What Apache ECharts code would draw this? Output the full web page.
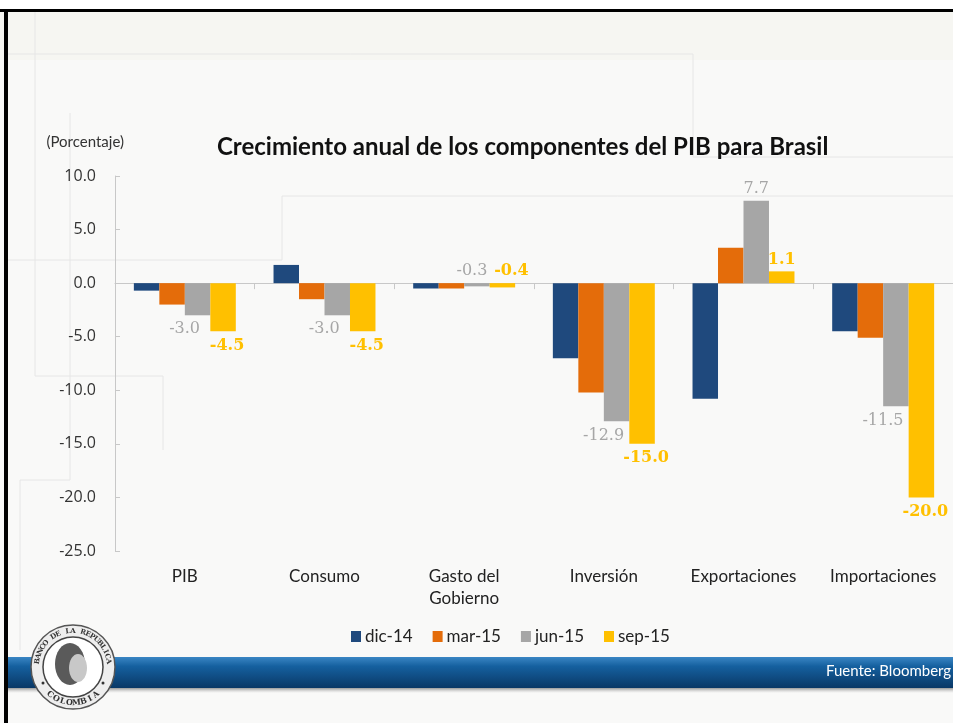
<!DOCTYPE html>
<html>
<head>
<meta charset="utf-8">
<script src="https://cdn.jsdelivr.net/npm/echarts@6/dist/echarts.min.js"></script>
<style>
  html, body { margin: 0; padding: 0; background: #f9f9f8; }
  #main { width: 953px; height: 723px; }
</style>
</head>
<body>
<div id="main"></div>
<script>
// datos del grafico
var categorias = ['PIB', 'Consumo', 'Gasto del\nGobierno', 'Inversión', 'Exportaciones', 'Importaciones'];
var dic14 = [-0.7, 1.7, -0.5, -7.0, -10.8, -4.5];
var mar15 = [-2.0, -1.5, -0.5, -10.2, 3.3, -5.1];
var jun15 = [-3.0, -3.0, -0.3, -12.9, 7.7, -11.5];
var sep15 = [-4.5, -4.5, -0.4, -15.0, 1.1, -20.0];
var series = ['dic-14', 'mar-15', 'jun-15', 'sep-15'];
var colores = ['#1f497d', '#e46c0a', '#a6a6a6', '#ffc000'];

// posicion de etiquetas (solo jun y sep llevan etiqueta)
var posJun = ['bottom', 'bottom', 'top', 'bottom', 'top', 'bottom'];
var posSep = ['bottom', 'bottom', 'top', 'bottom', 'top', 'bottom'];

function conEtiqueta(vals, pos, color, bold, dx, dxTop) {
    return vals.map(function (v, i) {
        var arriba = pos[i] == 'top';
        return {
            value: v,
            label: {
                show: true,
                position: pos[i],
                distance: arriba ? 4 : 6,
                offset: arriba ? [v < 0 ? dxTop : 0, 0] : [dx, 0],
                color: color,
                fontFamily: 'DejaVu Serif',
                fontSize: 16,
                fontWeight: bold ? 'bold' : 'normal',
                formatter: function (p) { return p.value.toFixed(1); }
            }
        };
    });
}

var lineaFondo = '#e6e6e6';
function linea(x1, y1, x2, y2) {
    return { type: 'line', silent: true, z: -10,
        shape: { x1: x1, y1: y1, x2: x2, y2: y2 },
        style: { stroke: lineaFondo, lineWidth: 1 } };
}

// letras del sello
var sello = [];
var txtArriba = 'BANCO DE LA REPUBLICA';
for (var k = 0; k < txtArriba.length; k++) {
    var ang = Math.PI * (1.05 + 0.9 * k / (txtArriba.length - 1));
    sello.push({ type: 'text', z: 12, x: 73 + 36 * Math.cos(ang), y: 667 + 36 * Math.sin(ang),
        rotation: -(ang + Math.PI / 2),
        style: { text: txtArriba[k], fill: '#333', font: 'bold 7px "DejaVu Serif"', align: 'center', verticalAlign: 'middle' } });
}
var txtAbajo = 'COLOMBIA';
for (var k = 0; k < txtAbajo.length; k++) {
    var ang2 = Math.PI * (0.72 - 0.44 * k / (txtAbajo.length - 1));
    sello.push({ type: 'text', z: 12, x: 73 + 36 * Math.cos(ang2), y: 667 + 36 * Math.sin(ang2),
        rotation: -(ang2 - Math.PI / 2),
        style: { text: txtAbajo[k], fill: '#333', font: 'bold 8px "DejaVu Serif"', align: 'center', verticalAlign: 'middle' } });
}

var myChart = echarts.init(document.getElementById('main'));

var option = {
    backgroundColor: '#f9f9f8',
    animation: false,
    textStyle: { fontFamily: 'Lato' },
    title: {
        text: 'Crecimiento anual de los componentes del PIB para Brasil',
        left: 212, top: 130,
        textStyle: { fontFamily: 'Lato', fontSize: 24, fontWeight: 'bold', color: '#111' }
    },
    legend: {
        data: series,
        left: 346, top: 623,
        itemWidth: 10, itemHeight: 11, itemGap: 20,
        icon: 'rect',
        textStyle: { fontFamily: 'Lato', fontSize: 17, color: '#222', padding: [0, 0, 0, -1] }
    },
    grid: { left: 115, right: 0, top: 176, bottom: 172, containLabel: false },
    xAxis: [{
        type: 'category',
        data: categorias,
        position: 'bottom',
        axisLine: { show: false, onZero: false },
        axisTick: { show: false },
        axisLabel: { margin: 15, fontFamily: 'Lato', fontSize: 17, color: '#222', lineHeight: 22, verticalAlign: 'top' }
    }, {
        type: 'category',
        data: categorias,
        position: 'bottom',
        axisLine: { show: true, onZero: true, lineStyle: { color: '#c8c8c8' } },
        axisTick: { show: true, length: 6, lineStyle: { color: '#c8c8c8' } },
        axisLabel: { show: false }
    }],
    yAxis: {
        type: 'value',
        min: -25, max: 10, interval: 5,
        name: '(Porcentaje)',
        nameLocation: 'end',
        nameGap: 26,
        nameTextStyle: { fontFamily: 'Lato', fontSize: 15, color: '#333', align: 'right', padding: [0, -9, 0, 0] },
        axisLine: { show: true, lineStyle: { color: '#c8c8c8' } },
        axisTick: { show: true, inside: true, length: 5, lineStyle: { color: '#c8c8c8' } },
        splitLine: { show: false },
        axisLabel: {
            margin: 19, fontFamily: 'Open Sans', fontSize: 16, color: '#333',
            formatter: function (v) { return v.toFixed(1); }
        }
    },
    series: [
        { name: series[0], type: 'bar', data: dic14, itemStyle: { color: colores[0] }, barGap: '0%', barCategoryGap: '27%' },
        { name: series[1], type: 'bar', data: mar15, itemStyle: { color: colores[1] } },
        { name: series[2], type: 'bar', data: conEtiqueta(jun15, posJun, '#a6a6a6', false, -13, -5), itemStyle: { color: colores[2] } },
        { name: series[3], type: 'bar', data: conEtiqueta(sep15, posSep, '#ffc000', true, 4, 9), itemStyle: { color: colores[3] } }
    ],
    graphic: [
        // fondo del area del grafico
        { type: 'rect', silent: true, z: -20, shape: { x: 0, y: 0, width: 953, height: 60 }, style: { fill: '#f6f6f2' } },
        { type: 'rect', silent: true, z: -19, shape: { x: 0, y: 0, width: 953, height: 9 }, style: { fill: '#ffffff' } },
        linea(8, 54, 693, 54),
        linea(693, 54, 693, 157),
        linea(693, 157, 953, 157),
        linea(35, 12, 35, 376),
        linea(35, 376, 163, 376),
        linea(163, 376, 163, 450),
        linea(70, 113, 70, 480),
        linea(20, 480, 70, 480),
        linea(20, 480, 20, 650),
        linea(8, 260, 282, 260),
        linea(282, 196, 282, 260),
        linea(282, 196, 953, 196),
        // marco negro
        { type: 'rect', silent: true, z: 20, shape: { x: 0, y: 9, width: 953, height: 3 }, style: { fill: '#000' } },
        { type: 'rect', silent: true, z: 20, shape: { x: 4, y: 9, width: 4, height: 714 }, style: { fill: '#000' } },
        // franja azul
        { type: 'rect', silent: true, z: 5, shape: { x: 8, y: 688, width: 945, height: 5 },
          style: { fill: new echarts.graphic.LinearGradient(0, 0, 0, 1, [{ offset: 0, color: '#9a9a9a' }, { offset: 1, color: 'rgba(200,200,200,0)' }]) } },
        { type: 'rect', silent: true, z: 6, shape: { x: 8, y: 657, width: 945, height: 31 },
          style: { fill: new echarts.graphic.LinearGradient(0, 0, 0, 1, [
              { offset: 0, color: '#3a86c4' }, { offset: 0.3, color: '#15609f' }, { offset: 1, color: '#0a3866' }]) } },
        { type: 'text', z: 7, x: 826, y: 671,
          style: { text: 'Fuente: Bloomberg', fill: '#ffffff', font: '15px Lato', verticalAlign: 'middle' } },
        // sello
        { type: 'circle', z: 10, shape: { cx: 73, cy: 667, r: 42 }, style: { fill: '#eeeeee', stroke: '#555', lineWidth: 1.5 } },
        { type: 'circle', z: 11, shape: { cx: 73, cy: 667, r: 30 }, style: { fill: '#ffffff', stroke: '#444', lineWidth: 1.5 } },
        { type: 'circle', z: 11, shape: { cx: 43, cy: 683, r: 1.5 }, style: { fill: '#333' } },
        { type: 'circle', z: 11, shape: { cx: 103, cy: 683, r: 1.5 }, style: { fill: '#333' } },
        { type: 'ellipse', z: 12, shape: { cx: 70, cy: 664, rx: 15, ry: 21 }, style: { fill: '#5a5a5a' } },
        { type: 'ellipse', z: 13, shape: { cx: 78, cy: 668, rx: 9, ry: 14 }, style: { fill: '#c8c8c8' } }
    ].concat(sello)
};

myChart.setOption(option, true);
</script>
</body>
</html>
